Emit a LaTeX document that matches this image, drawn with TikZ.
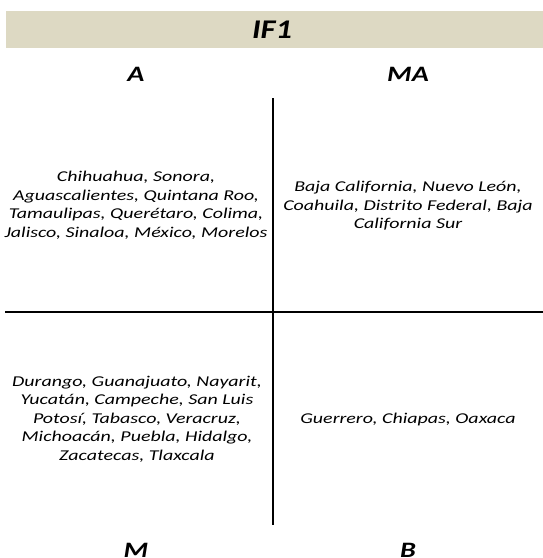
\documentclass[tikz,border=0pt]{standalone}
\usepackage{fontspec}
\setmainfont{Carlito}
\newfontfamily\statesfont{Carlito}[FakeStretch=1.33]
\newfontfamily\labelfont{Carlito}[FakeStretch=1.28]
\newfontfamily\titlefont{Carlito}[FakeStretch=1.2]
\definecolor{bandbeige}{HTML}{DDD9C3}
\begin{document}
\begin{tikzpicture}[x=1pt,y=-1pt,
  heading/.style={font=\labelfont\fontsize{22}{26}\selectfont\bfseries\itshape, inner sep=0pt},
  titlestyle/.style={font=\titlefont\fontsize{27}{30}\selectfont\bfseries\itshape, inner sep=0pt},
  states/.style={font=\statesfont\fontsize{15}{18.5}\selectfont\itshape, align=center, inner sep=0pt},
  axis/.style={line width=2.9pt, black}]
\useasboundingbox (0,0) rectangle (543,558);
\fill[bandbeige] (6,11) rectangle (543,48);
\node[titlestyle] (title) at (272,30) {IF1};
\node[heading] (A) at (136,74) {A};
\node[heading] (MA) at (408,74) {MA};
\node[heading] (M) at (136,550) {M};
\node[heading] (B) at (408,550) {B};
\coordinate (vtop) at (273,98);
\coordinate (vbot) at (273,525);
\coordinate (hl) at (5,312);
\coordinate (hr) at (543,312);
\draw[axis] (vtop) -- (vbot);
\draw[axis] (hl) -- (hr);
\node[states] (qa) at (136,205) {Chihuahua, Sonora,\\Aguascalientes, Quintana Roo,\\Tamaulipas, Querétaro, Colima,\\Jalisco, Sinaloa, México, Morelos};
\node[states] (qma) at (408,206) {Baja California, Nuevo León,\\Coahuila, Distrito Federal, Baja\\California Sur};
\node[states] (qm) at (137,419) {Durango, Guanajuato, Nayarit,\\Yucatán, Campeche, San Luis\\Potosí, Tabasco, Veracruz,\\Michoacán, Puebla, Hidalgo,\\Zacatecas, Tlaxcala};
\node[states] (qb) at (408,419) {Guerrero, Chiapas, Oaxaca};
\end{tikzpicture}
\end{document}
